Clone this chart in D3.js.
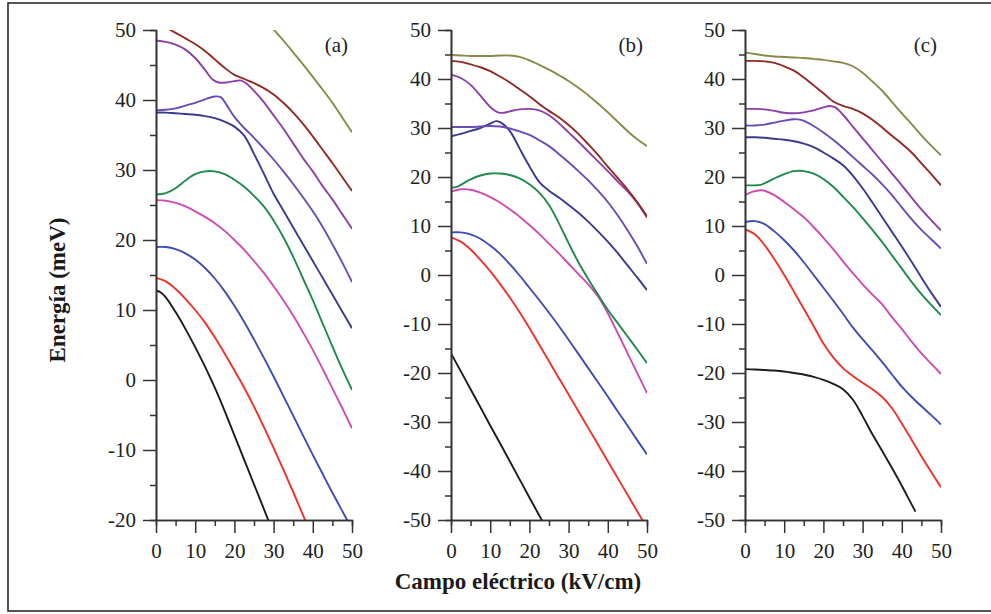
<!DOCTYPE html>
<html>
<head>
<meta charset="utf-8">
<script src="https://cdn.jsdelivr.net/npm/d3@7"></script>
<style>
  html, body { margin: 0; padding: 0; background: #fff; }
  #chart { width: 991px; height: 614px; }
  text { font-family: 'Liberation Serif', 'Times New Roman', serif; }
</style>
</head>
<body>
<div id="chart"></div>
<script>
/* Energy levels vs electric field, three panels (a), (b), (c).
   Each level is a list of [field kV/cm, energy meV]. */

const PANEL_LABELS = ['(a)', '(b)', '(c)'];
const FIELD_TICKS = [0, 10, 20, 30, 40, 50];
const ENERGY_TICKS_A = [-20, -10, 0, 10, 20, 30, 40, 50];
const ENERGY_TICKS_BC = [-50, -40, -30, -20, -10, 0, 10, 20, 30, 40, 50];
const X_TITLE = 'Campo eléctrico (kV/cm)';
const Y_TITLE = 'Energía (meV)';

// lowest level first
const LEVEL_COLORS = [
  '#1c1c1c', '#f2302a', '#3d4db4', '#cc4cb2', '#1f8a4c',
  '#3a3a92', '#6a4cb6', '#8c3fa8', '#922a22', '#8a8a48'
];

const LEVELS_A = [
  [[0,12.8],[1.25,12.5],[2.5,11.8],[5,9.7],[7.5,7.3],[10,4.7],[12.5,1.9],[15,-1.1],[17.5,-4.4],[20,-7.9],[22.5,-11.4],[25,-14.9],[27.5,-18.4],[30,-21.9]],
  [[0,14.6],[2.5,14.1],[5,13],[7.5,11.6],[10,10],[12.5,8.2],[15,6.1],[17.5,3.8],[20,1.4],[22.5,-1.1],[25,-3.8],[27.5,-6.7],[30,-9.7],[32.5,-12.8],[35,-16],[37.5,-19.3],[40,-22.6]],
  [[0,19],[2.5,19],[5,18.7],[7.5,18.1],[10,17.2],[12.5,16],[15,14.5],[17.5,12.7],[20,10.6],[22.5,8.3],[25,5.8],[27.5,3.2],[30,0.5],[32.5,-2.3],[35,-5.1],[37.5,-7.9],[40,-10.7],[42.5,-13.4],[45,-16.1],[47.5,-18.7],[50,-21.3]],
  [[0,25.7],[2.5,25.6],[5,25.3],[7.5,24.8],[10,24.1],[12.5,23.3],[15,22.4],[17.5,21.3],[20,20],[22.5,18.6],[25,17],[27.5,15.3],[30,13.4],[32.5,11.4],[35,9.2],[37.5,6.8],[40,4.3],[42.5,1.6],[45,-1.2],[47.5,-4],[50,-6.9]],
  [[0,26.5],[2.5,26.7],[5,27.4],[7.5,28.5],[10,29.4],[12.5,29.8],[15,29.8],[17.5,29.4],[20,28.6],[22.5,27.6],[25,26.3],[27.5,24.8],[30,22.8],[32.5,20.4],[35,17.6],[37.5,14.5],[40,11.4],[42.5,8.1],[45,4.8],[47.5,1.6],[50,-1.4]],
  [[0,38.2],[2.5,38.2],[5,38.1],[7.5,38],[10,37.9],[12.5,37.7],[15,37.4],[17.5,36.9],[20,36.2],[22.5,34.9],[25,32.3],[27.5,29.5],[30,26.6],[32.5,24.2],[35,21.8],[37.5,19.4],[40,17],[42.5,14.6],[45,12.2],[47.5,9.8],[50,7.4]],
  [[0,38.5],[2.5,38.6],[5,38.8],[7.5,39.2],[10,39.6],[12.5,40.1],[15,40.5],[16.5,40.4],[18,39.3],[20,37.6],[22.5,36],[25,34.6],[27.5,33.1],[30,31.5],[32.5,29.8],[35,28],[37.5,26.1],[40,24.1],[42.5,21.9],[45,19.4],[47.5,16.8],[50,14]],
  [[0,48.5],[2.5,48.3],[5,47.9],[7.5,47.2],[10,46],[12.5,44.3],[14.5,42.9],[16,42.5],[18,42.5],[20,42.7],[21.5,42.8],[23,42.4],[25,41.3],[27.5,39.7],[30,37.8],[32.5,35.9],[35,33.8],[37.5,31.7],[40,29.8],[42.5,27.7],[45,25.8],[47.5,23.7],[50,21.6]],
  [[2,50.5],[5,49.6],[7.5,48.8],[10,48],[12.5,47],[15,45.8],[17.5,44.6],[20,43.6],[22.5,43],[25,42.4],[27.5,41.7],[30,40.8],[32.5,39.6],[35,38.2],[37.5,36.6],[40,34.8],[42.5,32.9],[45,31],[47.5,29],[50,27]],
  [[29,50.8],[30,50.1],[32.5,48.5],[35,46.8],[37.5,45.1],[40,43.3],[42.5,41.5],[45,39.6],[47.5,37.5],[50,35.4]]
];

const LEVELS_B = [
  [[0,-16],[5,-23.3],[10,-30.7],[15,-38],[20,-45.4],[25,-52.7]],
  [[0,7.7],[2.5,6.8],[5,5.2],[7.5,3.1],[10,0.8],[12.5,-1.8],[15,-4.6],[17.5,-7.6],[20,-10.8],[22.5,-14.2],[25,-17.6],[27.5,-21],[30,-24.4],[32.5,-27.8],[35,-31.2],[37.5,-34.6],[40,-38],[42.5,-41.4],[45,-44.8],[47.5,-48.2],[50,-51.6]],
  [[0,8.7],[2.5,8.7],[5,8.3],[7.5,7.4],[10,6],[12.5,4.3],[15,2.2],[17.5,-0.1],[20,-2.6],[22.5,-5.1],[25,-7.7],[27.5,-10.4],[30,-13.2],[32.5,-16.1],[35,-19],[37.5,-21.9],[40,-24.8],[42.5,-27.8],[45,-30.7],[47.5,-33.7],[50,-36.6]],
  [[0,17],[2.5,17.5],[5,17.4],[7.5,16.8],[10,15.9],[12.5,14.8],[15,13.4],[17.5,11.9],[20,10.2],[22.5,8.4],[25,6.4],[27.5,4.4],[30,2.3],[32.5,0.2],[35,-1.9],[37.5,-4.4],[40,-7.8],[42.5,-11.8],[45,-15.9],[47.5,-20],[50,-24.1]],
  [[0,17.8],[1.5,18],[2.5,18.4],[5,19.5],[7.5,20.3],[10,20.7],[12.5,20.7],[15,20.4],[17.5,19.7],[20,18.5],[22.5,16.8],[25,14.3],[27.5,10.6],[30,6.5],[32.5,2.6],[35,-0.8],[37.5,-4],[40,-7.1],[42.5,-9.8],[45,-12.5],[47.5,-15.2],[50,-18]],
  [[0,28.3],[2.5,28.8],[5,29.4],[7.5,30],[10,30.9],[11.5,31.4],[12.5,31.2],[14,30.3],[15.5,28.8],[17.5,25.8],[20,22.2],[22.5,19],[25,17.2],[27.5,15.8],[30,14.3],[32.5,12.7],[35,10.9],[37.5,8.9],[40,6.8],[42.5,4.5],[45,2],[47.5,-0.5],[50,-3.1]],
  [[0,30.2],[2.5,30.2],[5,30.2],[7.5,30.3],[10,30.4],[12.5,30.3],[15,29.9],[17.5,29.3],[20,28.6],[22.5,27.5],[25,26.3],[27.5,24.7],[30,23],[32.5,21.2],[35,19.3],[37.5,17.2],[40,14.9],[42.5,12.2],[45,9.2],[47.5,5.9],[50,2.3]],
  [[0,40.9],[2.5,40.2],[5,38.8],[7.5,36.6],[10,34.3],[12,33.2],[13.5,33.1],[15,33.4],[17.5,33.8],[20,33.9],[22.5,33.6],[25,32.6],[27.5,31],[30,29.1],[32.5,27.2],[35,25.2],[37.5,23.2],[40,21.2],[42.5,19.1],[45,17.1],[47.5,14.7],[50,11.7]],
  [[0,43.7],[2.5,43.5],[5,43],[7.5,42.4],[10,41.6],[12.5,40.5],[15,39.3],[17.5,37.9],[20,36.5],[22.5,34.9],[25,33.5],[27.5,32.2],[30,30.6],[32.5,28.8],[35,26.7],[37.5,24.5],[40,22.1],[42.5,19.8],[45,17.5],[47.5,14.9],[50,12]],
  [[0,44.9],[2.5,44.8],[5,44.7],[7.5,44.7],[10,44.7],[12.5,44.8],[15,44.8],[17.5,44.5],[20,43.8],[22.5,42.9],[25,41.9],[27.5,40.8],[30,39.6],[32.5,38.2],[35,36.7],[37.5,35],[40,33.2],[42.5,31.3],[45,29.4],[47.5,27.7],[50,26.3]]
];

const LEVELS_C = [
  [[0,-19.2],[2.5,-19.3],[5,-19.4],[7.5,-19.5],[10,-19.7],[12.5,-20],[15,-20.3],[17.5,-20.8],[20,-21.4],[22.5,-22.2],[25,-23.3],[27.5,-25.4],[30,-28.8],[32.5,-32.5],[35,-35.9],[37.5,-39.4],[40,-43],[42.5,-46.8],[43.5,-48.3]],
  [[0,9.3],[2.5,8.3],[5,6.1],[7.5,3.2],[10,0],[12.5,-3.4],[15,-6.9],[17.5,-10.4],[20,-14],[22.5,-16.8],[25,-19],[27.5,-20.6],[30,-22],[32.5,-23.3],[35,-24.9],[37.5,-27.2],[40,-30.3],[42.5,-33.6],[45,-37],[47.5,-40.2],[50,-43.3]],
  [[0,10.8],[2.5,11],[5,10.4],[7.5,8.9],[10,7.1],[12.5,5],[15,2.6],[17.5,0],[20,-2.6],[22.5,-5.2],[25,-7.9],[27.5,-10.7],[30,-13.1],[32.5,-15.4],[35,-17.8],[37.5,-20.3],[40,-22.8],[42.5,-24.9],[45,-26.8],[47.5,-28.6],[50,-30.5]],
  [[0,16.3],[2,17],[4,17.3],[5,17.2],[7.5,16.3],[10,14.9],[12.5,13.4],[15,11.8],[17.5,9.8],[20,7.6],[22.5,5.3],[25,2.8],[27.5,0.4],[30,-1.9],[32.5,-4],[35,-6],[37.5,-8.6],[40,-11],[42.5,-13.6],[45,-16],[47.5,-18.1],[50,-20.2]],
  [[0,18.3],[2.5,18.3],[4,18.4],[6,19.1],[8,19.9],[10,20.6],[12.5,21.2],[15,21.2],[17.5,20.7],[20,19.6],[22.5,18],[25,16],[27.5,13.9],[30,11.6],[32.5,9.2],[35,6.7],[37.5,4],[40,1.3],[42.5,-1.4],[45,-3.9],[47.5,-6.1],[50,-8.2]],
  [[0,28.1],[2.5,28.1],[5,28],[7.5,27.8],[10,27.6],[12.5,27.3],[15,26.8],[17.5,26.1],[20,25],[22.5,23.8],[25,22.4],[27.5,20.3],[30,17.7],[32.5,14.8],[35,11.8],[37.5,8.8],[40,5.8],[42.5,2.7],[45,-0.5],[47.5,-3.6],[50,-6.5]],
  [[0,30.5],[2.5,30.5],[5,30.7],[7.5,31.1],[10,31.5],[12.5,31.8],[14,31.7],[15.5,31.3],[17.5,30.4],[20,29.1],[22.5,27.6],[25,25.9],[27.5,24.1],[30,22.3],[32.5,20.5],[35,18.5],[37.5,16.3],[40,13.8],[42.5,11.4],[45,9.2],[47.5,7.3],[50,5.4]],
  [[0,33.9],[2.5,33.9],[5,33.8],[7.5,33.5],[10,33.1],[12.5,33],[15,33.2],[17.5,33.6],[20,34.2],[21.5,34.5],[23,34.2],[25,32.7],[27.5,30.3],[30,27.9],[32.5,25.5],[35,23.1],[37.5,20.7],[40,18.3],[42.5,15.8],[45,13.4],[47.5,11.2],[50,9.1]],
  [[0,43.7],[2.5,43.7],[5,43.6],[7.5,43.3],[10,42.6],[12.5,41.7],[15,40.3],[17.5,38.7],[20,37.1],[22.5,35.4],[25,34.5],[27.5,33.9],[30,33],[32.5,31.7],[35,30.1],[37.5,28.4],[40,26.8],[42.5,25],[45,22.8],[47.5,20.6],[50,18.3]],
  [[0,45.4],[2.5,45.1],[5,44.8],[7.5,44.6],[10,44.5],[12.5,44.4],[15,44.3],[17.5,44.1],[20,43.9],[22.5,43.6],[25,43.3],[27.5,42.6],[30,41.3],[32.5,39.5],[35,37.6],[37.5,35.3],[40,33],[42.5,30.8],[45,28.5],[47.5,26.4],[50,24.4]]
];

(function () {
  const W = 991, H = 614;
  const AXIS = '#333';
  const plotTop = 30, plotBottom = 520, plotWidth = 196;

  const panels = [
    { left: 156, levels: LEVELS_A, ticks: ENERGY_TICKS_A },
    { left: 451, levels: LEVELS_B, ticks: ENERGY_TICKS_BC },
    { left: 745, levels: LEVELS_C, ticks: ENERGY_TICKS_BC }
  ];

  const svg = d3.select('#chart')
    .append('svg')
    .attr('width', W)
    .attr('height', H)
    .attr('viewBox', `0 0 ${W} ${H}`);

  // frame (right edge sits outside the picture, as in the original)
  svg.append('rect')
    .attr('x', 8).attr('y', 3)
    .attr('width', W + 20).attr('height', 608)
    .attr('fill', 'none')
    .attr('stroke', '#2a2a2a')
    .attr('stroke-width', 1.6);

  panels.forEach((p, i) => {
    const x = d3.scaleLinear().domain([0, 50]).range([p.left, p.left + plotWidth]);
    const yDomain = d3.extent(p.ticks);
    const y = d3.scaleLinear().domain(yDomain).range([plotBottom, plotTop]);

    const clipId = `clip-${i}`;
    svg.append('clipPath').attr('id', clipId)
      .append('rect')
      .attr('x', x(0)).attr('y', y(yDomain[1]))
      .attr('width', x(50) - x(0)).attr('height', y(yDomain[0]) - y(yDomain[1]));

    const line = d3.line()
      .x(d => x(d[0]))
      .y(d => y(d[1]))
      .curve(d3.curveCatmullRom.alpha(0.5));

    svg.append('g')
      .attr('clip-path', `url(#${clipId})`)
      .selectAll('path')
      .data(p.levels)
      .enter()
      .append('path')
      .attr('fill', 'none')
      .attr('stroke', (d, k) => LEVEL_COLORS[k])
      .attr('stroke-width', 1.9)
      .attr('stroke-linejoin', 'round')
      .attr('d', line);

    // minor ticks
    const minorY = d3.range(yDomain[0] + 5, yDomain[1], 10);
    const minorX = [5, 15, 25, 35, 45];

    svg.append('g')
      .attr('transform', `translate(${x(0)},0)`)
      .call(d3.axisLeft(y).tickValues(minorY).tickSize(6).tickFormat(''))
      .call(styleAxis);

    svg.append('g')
      .attr('transform', `translate(0,${plotBottom})`)
      .call(d3.axisBottom(x).tickValues(minorX).tickSize(6).tickFormat(''))
      .call(styleAxis);

    const yAxis = svg.append('g')
      .attr('transform', `translate(${x(0)},0)`)
      .call(d3.axisLeft(y).tickValues(p.ticks).tickSize(13).tickSizeOuter(0).tickFormat(d => String(d)))
      .call(styleAxis);
    yAxis.selectAll('text')
      .attr('x', -20)
      .style('font-size', '21px');

    const xAxis = svg.append('g')
      .attr('transform', `translate(0,${plotBottom})`)
      .call(d3.axisBottom(x).tickValues(FIELD_TICKS).tickSize(13).tickSizeOuter(0).tickFormat(d => String(d)))
      .call(styleAxis);
    xAxis.selectAll('text')
      .attr('y', 38)
      .attr('dy', 0)
      .style('font-size', '21px');

    svg.append('text')
      .attr('x', x(50) - 4)
      .attr('y', 52)
      .attr('text-anchor', 'end')
      .style('font-size', '21px')
      .style('fill', '#222')
      .text(PANEL_LABELS[i]);
  });

  function styleAxis(g) {
    g.selectAll('.domain').attr('stroke', AXIS).attr('stroke-width', 1.6);
    g.selectAll('.tick line').attr('stroke', AXIS).attr('stroke-width', 1.5);
    g.selectAll('.tick text')
      .style('font-family', "'Liberation Serif', serif")
      .style('fill', '#222');
    g.attr('font-family', null).attr('font-size', null);
  }

  svg.append('text')
    .attr('x', 518)
    .attr('y', 589)
    .attr('text-anchor', 'middle')
    .style('font-size', '23px')
    .style('font-weight', 'bold')
    .style('fill', '#1a1a1a')
    .text(X_TITLE);

  svg.append('text')
    .attr('transform', 'translate(65,290)rotate(-90)')
    .attr('text-anchor', 'middle')
    .style('font-size', '23px')
    .style('font-weight', 'bold')
    .style('fill', '#1a1a1a')
    .text(Y_TITLE);
})();
</script>
</body>
</html>
